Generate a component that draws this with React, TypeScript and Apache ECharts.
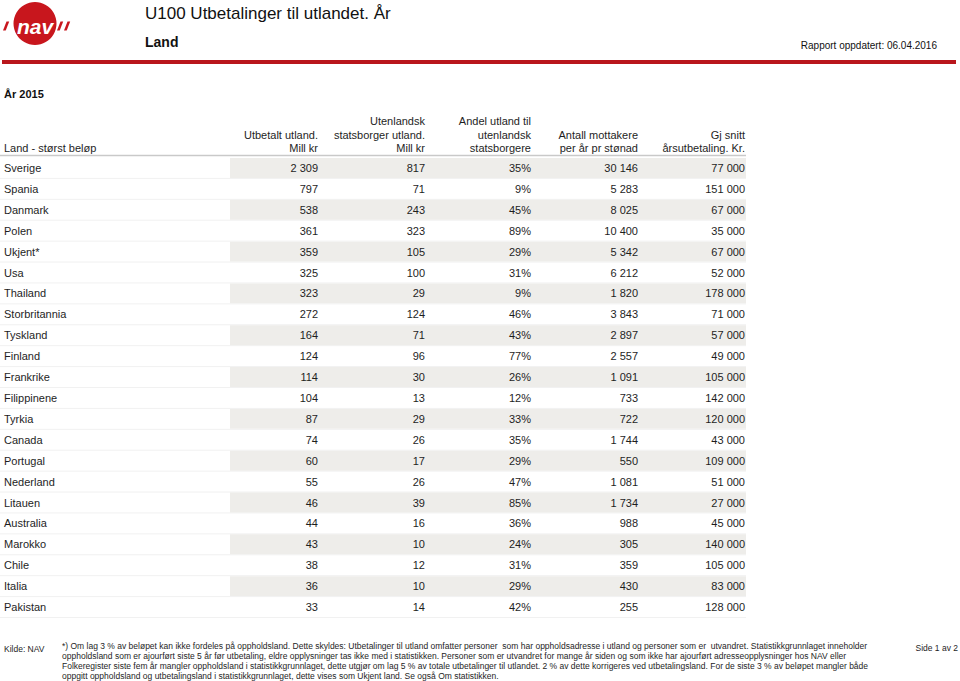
import React, { useEffect, useRef } from "react";
import * as echarts from "echarts";

const countries = [
  "Sverige", "Spania", "Danmark", "Polen", "Ukjent*", "Usa", "Thailand", "Storbritannia",
  "Tyskland", "Finland", "Frankrike", "Filippinene", "Tyrkia", "Canada", "Portugal",
  "Nederland", "Litauen", "Australia", "Marokko", "Chile", "Italia", "Pakistan",
];
const utbetalt = [2309, 797, 538, 361, 359, 325, 323, 272, 164, 124, 114, 104, 87, 74, 60, 55, 46, 44, 43, 38, 36, 33];
const statsborger = [817, 71, 243, 323, 105, 100, 29, 124, 71, 96, 30, 13, 29, 26, 17, 26, 39, 16, 10, 12, 10, 14];
const andel = [35, 9, 45, 89, 29, 31, 9, 46, 43, 77, 26, 12, 33, 35, 29, 47, 85, 36, 24, 31, 29, 42];
const mottakere = [30146, 5283, 8025, 10400, 5342, 6212, 1820, 3843, 2897, 2557, 1091, 733, 722, 1744, 550, 1081, 1734, 988, 305, 359, 430, 255];
const snitt = [77000, 151000, 67000, 35000, 67000, 52000, 178000, 71000, 57000, 49000, 105000, 142000, 120000, 43000, 109000, 51000, 27000, 45000, 140000, 105000, 83000, 128000];

const headerLines = [
  ["Land - størst beløp"],
  ["Utbetalt utland.", "Mill kr"],
  ["Utenlandsk", "statsborger utland.", "Mill kr"],
  ["Andel utland til", "utenlandsk", "statsborgere"],
  ["Antall mottakere", "per år pr stønad"],
  ["Gj snitt", "årsutbetaling. Kr."],
];

const titleText = "U100 Utbetalinger til utlandet. År";
const subtitleText = "Land";
const updatedText = "Rapport oppdatert: 06.04.2016";
const yearText = "År 2015";
const sourceText = "Kilde: NAV";
const pageText = "Side 1 av 2";
const footerLines = [
  "*) Om lag 3 % av beløpet kan ikke fordeles på oppholdsland. Dette skyldes: Utbetalinger til utland omfatter personer  som har oppholdsadresse i utland og personer som er  utvandret. Statistikkgrunnlaget inneholder",
  "oppholdsland som er ajourført siste 5 år før utbetaling, eldre opplysninger tas ikke med i statistikken. Personer som er utvandret for mange år siden og som ikke har ajourført adresseopplysninger hos NAV eller",
  "Folkeregister siste fem år mangler oppholdsland i statistikkgrunnlaget, dette utgjør om lag 5 % av totale utbetalinger til utlandet. 2 % av dette korrigeres ved utbetalingsland. For de siste 3 % av beløpet mangler både",
  "oppgitt oppholdsland og utbetalingsland i statistikkgrunnlaget, dette vises som Ukjent land. Se også Om statistikken.",
];

// layout (pixel positions of column right edges, etc.)
const FONT = '"Liberation Sans", Arial, Helvetica, sans-serif';
const TXT = "#1e1e1e";
const colRight = [0, 318, 425, 531, 638, 745];
const bandLeft = 230;
const tableRight = 746;
const headerBottomY = 148;
const headerPitch = 13.5;

const fmt = (n: number) => String(n).replace(/\B(?=(\d{3})+(?!\d))/g, " ");

export default function App() {
  const ref = useRef<HTMLDivElement>(null);
  useEffect(() => {
    if (!ref.current) return;
    const chart = echarts.init(ref.current, undefined, { renderer: "svg" });

    const data = countries.map((_, i) => [0, i, utbetalt[i], statsborger[i], andel[i], mottakere[i], snitt[i]]);

    const graphics: any[] = [];
    // logo
    graphics.push({ type: "circle", shape: { cx: 35, cy: 23.5, r: 21.5 }, style: { fill: "#c8161d" } });
    graphics.push({
      type: "text", x: 35, y: 26,
      style: { text: "nav", fill: "#fff", fontSize: 21, fontWeight: "bold", fontStyle: "italic", fontFamily: FONT, align: "center", verticalAlign: "middle" },
    });
    const slashes = [3, 57, 64];
    slashes.forEach((sx) =>
      graphics.push({ type: "polygon", shape: { points: [[sx + 3.5, 21.5], [sx + 6.2, 21.5], [sx + 2.7, 30.5], [sx, 30.5]] }, style: { fill: "#c8161d" } })
    );
    // title
    graphics.push({ type: "text", x: 145, y: 13, style: { text: titleText, fontSize: 17, fontFamily: FONT, fill: "#111", verticalAlign: "middle" } });
    graphics.push({ type: "text", x: 145, y: 42, style: { text: subtitleText, fontSize: 14, fontWeight: "bold", fontFamily: FONT, fill: "#111", verticalAlign: "middle" } });
    graphics.push({ type: "text", x: 937, y: 45, style: { text: updatedText, fontSize: 10, fontFamily: FONT, fill: "#111", align: "right", verticalAlign: "middle" } });
    graphics.push({ type: "rect", shape: { x: 2, y: 60, width: 954, height: 4 }, style: { fill: "#b9161c" } });
    graphics.push({ type: "text", x: 4, y: 94, style: { text: yearText, fontSize: 11, fontWeight: "bold", fontFamily: FONT, fill: "#111", verticalAlign: "middle" } });
    // headers
    headerLines.forEach((lines, c) => {
      lines.forEach((t, k) => {
        const y = headerBottomY - (lines.length - 1 - k) * headerPitch;
        graphics.push({
          type: "text", x: c === 0 ? 4 : colRight[c], y,
          style: { text: t, fontSize: 11, fontFamily: FONT, fill: TXT, align: c === 0 ? "left" : "right", verticalAlign: "middle" },
        });
      });
    });
    graphics.push({ type: "line", shape: { x1: 0, y1: 155.5, x2: tableRight, y2: 155.5 }, style: { stroke: "#c9c9c9", lineWidth: 1.5 } });
    // footer
    graphics.push({ type: "text", x: 4, y: 649, style: { text: sourceText, fontSize: 8.5, fontFamily: FONT, fill: TXT, verticalAlign: "middle" } });
    footerLines.forEach((t, k) =>
      graphics.push({ type: "text", x: 62, y: 645.5 + k * 10.2, style: { text: t, fontSize: 8.5, fontFamily: FONT, fill: TXT, verticalAlign: "middle" } })
    );
    graphics.push({ type: "text", x: 958, y: 648, style: { text: pageText, fontSize: 8.5, fontFamily: FONT, fill: TXT, align: "right", verticalAlign: "middle" } });

    chart.setOption({
      animation: false,
      backgroundColor: "#ffffff",
      grid: { left: 0, right: 0, top: 157.5, height: 460 },
      xAxis: { type: "value", min: 0, max: 960, show: false },
      yAxis: {
        type: "category",
        data: countries,
        inverse: true,
        axisLine: { show: false },
        axisTick: { show: false },
        splitLine: { show: false },
        axisLabel: { inside: true, margin: 4, interval: 0, fontSize: 11, fontFamily: FONT, color: TXT },
        z: 10,
      },
      graphic: graphics,
      series: [
        {
          type: "custom",
          data,
          encode: { x: 0, y: 1 },
          renderItem: (params: any, api: any) => {
            const idx = api.value(1);
            const cy = api.coord([0, idx])[1];
            const h = api.size([0, 1])[1];
            const bx = api.coord([bandLeft, idx])[0];
            const ex = api.coord([tableRight, idx])[0];
            const texts = [fmt(api.value(2)), fmt(api.value(3)), api.value(4) + "%", fmt(api.value(5)), fmt(api.value(6))];
            const children: any[] = [];
            children.push({
              type: "line",
              shape: { x1: 0, y1: cy + h / 2, x2: ex, y2: cy + h / 2 },
              style: { stroke: "#f1f1f1", lineWidth: 1 },
            });
            if (idx % 2 === 0) {
              children.push({
                type: "rect",
                shape: { x: bx, y: cy - h / 2 + 0.5, width: ex - bx, height: h - 1 },
                style: { fill: "#eeedea" },
              });
            }
            texts.forEach((t, k) => {
              children.push({
                type: "text",
                x: api.coord([colRight[k + 1], idx])[0],
                y: cy,
                style: { text: t, align: "right", verticalAlign: "middle", fontSize: 11, fontFamily: FONT, fill: TXT },
              });
            });
            return { type: "group", children };
          },
        },
      ],
    });
    return () => chart.dispose();
  }, []);
  return <div ref={ref} style={{ position: "fixed", left: 0, top: 0, width: 960, height: 681 }} />;
}
